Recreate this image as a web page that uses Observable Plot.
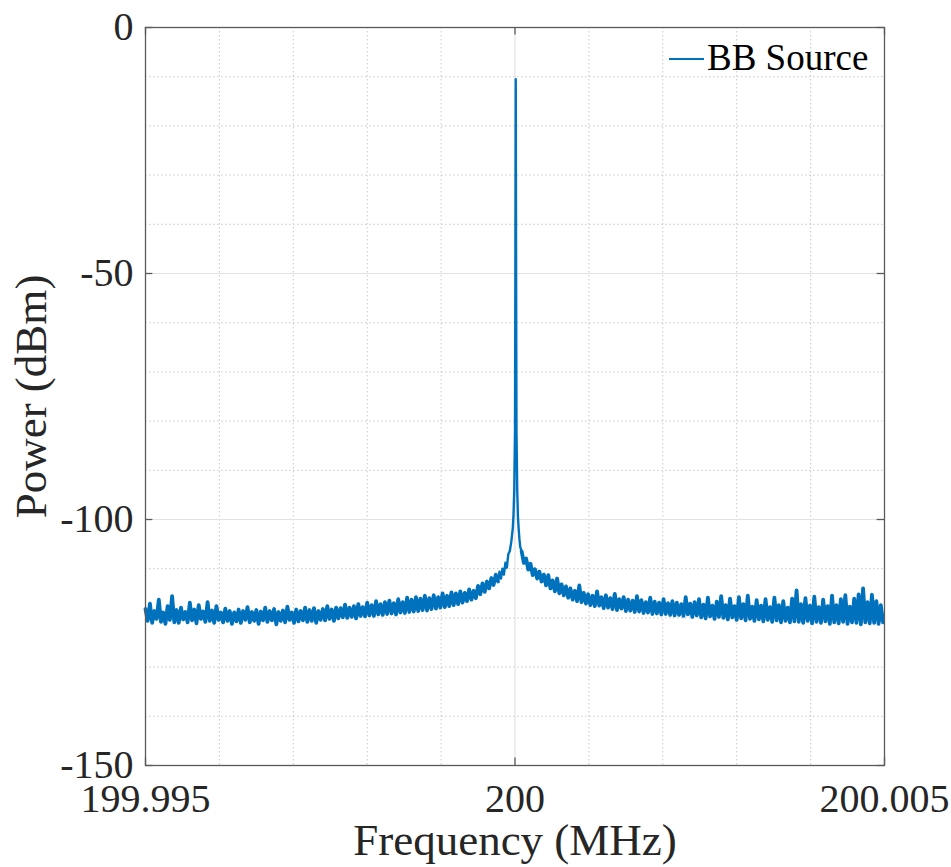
<!DOCTYPE html>
<html><head><meta charset="utf-8">
<script src="https://cdn.jsdelivr.net/npm/d3@7"></script>
<script src="https://cdn.jsdelivr.net/npm/@observablehq/plot@0.6"></script>
<style>
body{margin:0;background:#fff}
#chart svg, #chart svg text { font-family: "Liberation Serif", "DejaVu Serif", serif !important; }
</style>
</head><body><div id="chart"></div>
<script>
// ---- data ----
const seriesName = "BB Source";
const binStep = 0.00003;            // MHz between analyser bins
const leftStart = 199.995;          // first bin of the lower skirt
const leftPower = [
 -118.2,-120.6,-117.1,-121.0,-118.6,-120.2,-116.3,-120.8,-118.9,-121.2,
 -117.6,-120.4,-115.6,-120.9,-118.4,-121.0,-117.9,-120.3,-118.8,-120.9,
 -116.9,-120.5,-118.3,-121.1,-117.4,-120.2,-118.7,-120.8,-116.8,-120.6,
 -118.5,-121.0,-117.6,-120.4,-118.9,-120.9,-118.1,-120.6,-118.6,-121.2,
 -118.9,-120.7,-118.3,-121.0,-118.6,-120.4,-117.8,-120.9,-118.8,-120.6,
 -118.4,-121.2,-118.7,-120.5,-117.9,-120.8,-118.6,-120.5,-118.2,-121.3,
 -118.8,-120.6,-118.5,-120.9,-117.7,-120.4,-118.9,-121.0,-118.3,-120.7,
 -118.6,-120.5,-117.9,-120.8,-118.4,-120.6,-118.0,-121.0,-118.6,-120.4,
 -118.2,-120.5,-117.6,-120.2,-118.3,-120.6,-117.9,-120.1,-118.0,-119.9,
 -117.3,-120.0,-117.9,-119.8,-117.6,-120.1,-117.2,-119.6,-117.8,-119.7,
 -116.9,-119.5,-117.4,-119.6,-116.6,-119.3,-117.2,-119.4,-116.8,-119.2,
 -116.5,-119.1,-117.0,-119.3,-116.2,-118.9,-116.8,-119.0,-115.9,-118.8,
 -116.3,-118.7,-115.8,-118.6,-116.1,-118.4,-115.5,-118.5,-116.0,-118.2,
 -115.4,-118.1,-115.8,-117.9,-115.0,-117.8,-115.5,-117.6,-114.8,-117.4,
 -115.0,-117.2,-114.6,-116.9,-114.9,-116.6,-114.2,-116.3,-114.5,-116.0,
 -113.5,-115.2,-113.0,-114.7,-112.6,-114.0,-111.9,-113.3,-111.2,-112.6
];
const peakFreq = [
 199.99979,199.99981,199.99983,199.99985,199.99987,199.99989,199.99991,199.99993,
 199.99995,199.99997,199.99998,199.99999,200.000000,200.000005,200.00001,
 200.000015,200.00002,200.00003,200.00004,200.00005,200.00006,200.00007
];
const peakPower = [
 -110.6,-112.0,-110.0,-111.2,-108.8,-109.8,-107.0,-106.4,
 -104.5,-101.8,-99.0,-94.0,-82.0,-50.0,-10.5,
 -50.0,-82.0,-94.0,-99.5,-102.0,-104.0,-105.5
];
const rightStart = 200.00009;       // first bin of the upper skirt
const rightPower = [
 -106.5,-108.8,-107.9,-110.2,-109.0,-111.3,-110.1,-112.0,-110.6,-112.6,
 -111.2,-113.4,-111.3,-114.0,-112.4,-114.6,-112.0,-115.0,-113.2,-115.4,
 -113.6,-115.9,-114.0,-116.3,-114.5,-116.6,-113.4,-116.8,-114.9,-117.1,
 -115.2,-117.4,-115.5,-117.6,-114.6,-117.5,-115.8,-118.0,-115.4,-117.9,
 -116.0,-118.2,-115.1,-118.4,-116.2,-118.1,-115.8,-118.6,-116.3,-118.5,
 -116.5,-118.8,-115.6,-118.7,-116.4,-119.0,-116.8,-118.9,-115.9,-119.2,
 -116.7,-119.1,-116.9,-119.3,-116.2,-119.2,-117.0,-119.4,-116.6,-119.5,
 -116.9,-119.4,-117.2,-119.6,-115.8,-119.3,-117.1,-119.8,-116.8,-119.5,
 -116.2,-119.9,-117.3,-120.1,-115.9,-119.7,-117.5,-120.2,-116.7,-119.8,
 -115.6,-120.0,-117.4,-120.3,-116.1,-119.9,-117.6,-120.4,-115.8,-120.1,
 -117.2,-120.5,-115.5,-120.2,-117.7,-120.6,-116.4,-120.3,-117.5,-120.7,
 -116.2,-120.4,-117.8,-120.8,-115.9,-120.5,-117.4,-120.9,-116.6,-120.6,
 -117.9,-120.9,-116.1,-120.7,-114.4,-120.8,-117.2,-121.0,-116.0,-120.6,
 -117.5,-121.1,-115.7,-120.8,-117.8,-121.0,-116.3,-120.7,-117.6,-121.2,
 -115.5,-120.9,-117.4,-121.1,-116.2,-120.8,-115.4,-121.2,-117.7,-120.9,
 -116.1,-121.0,-115.2,-121.3,-114.0,-120.9,-116.8,-121.1,-115.3,-121.0,
 -116.6,-121.2,-117.4,-120.9
];
const xDomain = [199.995, 200.005];
const yDomain = [-150, 0];
const xTicks = [199.995, 200, 200.005];
const yTicks = [-150, -100, -50, 0];
const xMinor = [199.996, 199.997, 199.998, 199.999, 200.001, 200.002, 200.003, 200.004];
const yMinor = [-140, -130, -120, -110, -90, -80, -70, -60, -40, -30, -20, -10];
const xMajorGrid = [200];
const yMajorGrid = [-100, -50];
const xLabel = "Frequency (MHz)";
const yLabel = "Power (dBm)";

// ---- build tables ----
const leftSkirt = leftPower.map((p, i) => ({f: leftStart + i * binStep, p}));
const peak = peakFreq.map((f, i) => ({f, p: peakPower[i]}));
const rightSkirt = rightPower.map((p, i) => ({f: rightStart + i * binStep, p}));
const spectrum = [...leftSkirt, ...peak, ...rightSkirt];

const BLUE = "#0072BD";
const INK = "#262626";
const FONT = "Liberation Serif, DejaVu Serif, serif";

const tickLenX = 0.00010; // inward tick length in x units
const tickLenY = 1.5;     // inward tick length in y units

const legend = (index, scales, values, dims) => {
  const right = dims.width - dims.marginRight;
  const top = dims.marginTop;
  const g = d3.create("svg:g");
  g.append("line")
    .attr("x1", right - 215).attr("x2", right - 180)
    .attr("y1", top + 32).attr("y2", top + 32)
    .attr("stroke", BLUE).attr("stroke-width", 2.2);
  g.append("text")
    .attr("x", right - 177).attr("y", top + 43)
    .attr("text-anchor", "start")
    .attr("font-size", 37).attr("fill", "#000")
    .text(seriesName);
  return g.node();
};

const chart = Plot.plot({
  width: 951,
  height: 867,
  marginLeft: 145,
  marginRight: 67,
  marginTop: 27,
  marginBottom: 102,
  style: "font-family: " + FONT + "; background: #fff; color: " + INK + ";",
  x: {domain: xDomain},
  y: {domain: yDomain},
  marks: [
    Plot.ruleX(xMinor, {stroke: "#c8c8c8", strokeWidth: 1, strokeDasharray: "1.5,2.5"}),
    Plot.ruleY(yMinor, {stroke: "#c8c8c8", strokeWidth: 1, strokeDasharray: "1.5,2.5"}),
    Plot.ruleX(xMajorGrid, {stroke: "#e2e2e2", strokeWidth: 1.2}),
    Plot.ruleY(yMajorGrid, {stroke: "#e2e2e2", strokeWidth: 1.2}),
    Plot.line(spectrum, {x: "f", y: "p", stroke: BLUE, strokeWidth: 2.4}),
    Plot.line(leftSkirt, {x: "f", y: "p", stroke: BLUE, strokeWidth: 3.8}),
    Plot.line(rightSkirt, {x: "f", y: "p", stroke: BLUE, strokeWidth: 3.8}),
    Plot.frame({stroke: "#5a5a5a", strokeWidth: 1.3}),
    // inward ticks
    Plot.ruleX(xTicks, {y1: yDomain[0], y2: yDomain[0] + tickLenY, stroke: "#5a5a5a", strokeWidth: 1.3}),
    Plot.ruleX(xTicks, {y1: yDomain[1], y2: yDomain[1] - tickLenY, stroke: "#5a5a5a", strokeWidth: 1.3}),
    Plot.ruleY(yTicks, {x1: xDomain[0], x2: xDomain[0] + tickLenX, stroke: "#5a5a5a", strokeWidth: 1.3}),
    Plot.ruleY(yTicks, {x1: xDomain[1], x2: xDomain[1] - tickLenX, stroke: "#5a5a5a", strokeWidth: 1.3}),
    Plot.axisX(xTicks, {tickSize: 0, tickPadding: 18, fontSize: 40, label: null, tickFormat: d => String(d), fill: INK}),
    Plot.axisY(yTicks, {tickSize: 0, tickPadding: 12, fontSize: 40, label: null, tickFormat: d => String(d), fill: INK}),
    Plot.text([xLabel], {text: d => d, frameAnchor: "bottom", lineAnchor: "middle", textAnchor: "middle", dy: 75, fontSize: 45, fill: INK}),
    Plot.text([yLabel], {text: d => d, frameAnchor: "left", lineAnchor: "middle", textAnchor: "middle", dx: -114, rotate: -90, fontSize: 45, fill: INK}),
    legend
  ]
});
document.getElementById("chart").append(chart);
</script>
</body></html>
